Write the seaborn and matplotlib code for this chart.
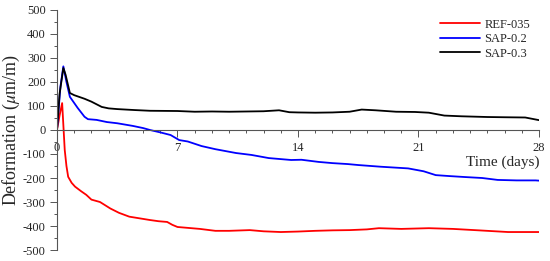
import numpy as np
import pandas as pd
import matplotlib
matplotlib.use("Agg")
import matplotlib.pyplot as plt
from matplotlib.ticker import MultipleLocator
import seaborn as sns

# ---- data (time in days, deformation in um/m) ----
ref_t = [0, 0.15, 0.3, 0.45, 0.55, 0.65, 0.85, 1.05, 1.4, 1.7, 2.0, 2.5, 3.1, 3.6,
         4.2, 4.8, 5.4, 5.9, 6.4, 6.7, 7.0, 8.3, 9.2, 10, 11.2, 12, 13, 14, 15, 16,
         17, 18, 18.7, 20, 21.6, 23, 24.5, 26.2, 27, 28]
ref_v = [0, 60, 112, -83, -150, -195, -220, -236, -255, -270, -290, -300, -327, -345,
         -361, -368, -375, -380, -383, -395, -404, -412, -420, -420, -417, -422, -425, -423, -420, -418,
         -417, -414, -409, -412, -409, -412, -418, -425, -425, -425]

sap2_t = [0, 0.2, 0.37, 0.55, 0.75, 1.2, 1.6, 1.8, 2.3, 2.9, 3.5, 4.4, 5.0, 5.4,
          6.0, 6.6, 7.1, 7.6, 8.4, 9.2, 10.4, 11.3, 12.3, 13.6, 14.2, 15.2, 16.0, 16.9,
          17.5, 18.8, 20.4, 21.3, 22.0, 22.8, 23.7, 24.7, 25.6, 26.7, 27.8, 28]
sap2_v = [0, 180, 265, 200, 138, 92, 55, 45, 42, 33, 28, 17, 8, 0,
          -10, -21, -42, -48, -67, -80, -96, -104, -117, -125, -124, -133, -138, -142,
          -146, -153, -160, -172, -188, -192, -196, -200, -208, -210, -210, -211]

sap3_t = [0, 0.15, 0.37, 0.5, 0.75, 1.0, 1.6, 2.0, 2.6, 3.0, 3.5, 4.5, 5.4, 7, 8, 9,
          10, 11, 12, 12.9, 13.5, 14, 15, 16, 17, 17.7, 18.5, 19.7, 20.8, 21.6, 22.5,
          23.5, 25, 26, 27.2, 28]
sap3_v = [0, 150, 258, 230, 154, 145, 130, 118, 96, 90, 87, 83, 80, 79, 76, 77,
          76, 77, 78, 82, 74, 73, 72, 73, 76, 85, 82, 76, 75, 72, 60,
          57, 54, 53, 52, 41]

series_names = ["REF-035", "SAP-0.2", "SAP-0.3"]
series_colors = ["#ff0000", "#0000ff", "#000000"]

df = pd.concat([
    pd.DataFrame({"t": ref_t, "v": ref_v, "mix": series_names[0]}),
    pd.DataFrame({"t": sap2_t, "v": sap2_v, "mix": series_names[1]}),
    pd.DataFrame({"t": sap3_t, "v": sap3_v, "mix": series_names[2]}),
], ignore_index=True)

sns.set_style("ticks")
plt.rcParams["font.family"] = ["Liberation Serif", "DejaVu Serif"]
plt.rcParams["mathtext.fontset"] = "stix"
plt.rcParams["axes.unicode_minus"] = False

fig = plt.figure(figsize=(5.5, 2.61), dpi=100)
ax = fig.add_axes([0.1036, 0.042, 0.8764, 0.92])

sns.lineplot(data=df, x="t", y="v", hue="mix", palette=series_colors,
             hue_order=series_names, sort=False, estimator=None,
             linewidth=1.3, ax=ax)

ax.set_xlim(0, 28)
ax.set_ylim(-500, 500)
ax.xaxis.set_major_locator(MultipleLocator(7))
ax.xaxis.set_minor_locator(MultipleLocator(1))
ax.yaxis.set_major_locator(MultipleLocator(100))
ax.yaxis.set_minor_locator(MultipleLocator(50))

# x axis runs through zero
ax.spines["bottom"].set_position(("data", 0))
ax.spines["top"].set_visible(False)
ax.spines["right"].set_visible(False)
for s in ("bottom", "left"):
    ax.spines[s].set_color("#555555")
    ax.spines[s].set_linewidth(0.8)

ax.tick_params(which="major", length=5, width=0.7, color="#555555", labelsize=9, pad=3)
ax.tick_params(which="minor", length=2.5, width=0.7, color="#555555")
ax.tick_params(axis="x", which="major", pad=4)

ax.set_ylabel(r"Deformation ($\mu$m/m)", fontsize=13, labelpad=1)
ax.set_xlabel("Time (days)", fontsize=11, loc="right", labelpad=1)

ax.legend(loc="upper right", bbox_to_anchor=(1.0, 1.0), frameon=False,
          fontsize=9, handlelength=3.2, handletextpad=0.4, labelspacing=0.2,
          borderaxespad=0.3)

fig.savefig("out.png", dpi=100)
